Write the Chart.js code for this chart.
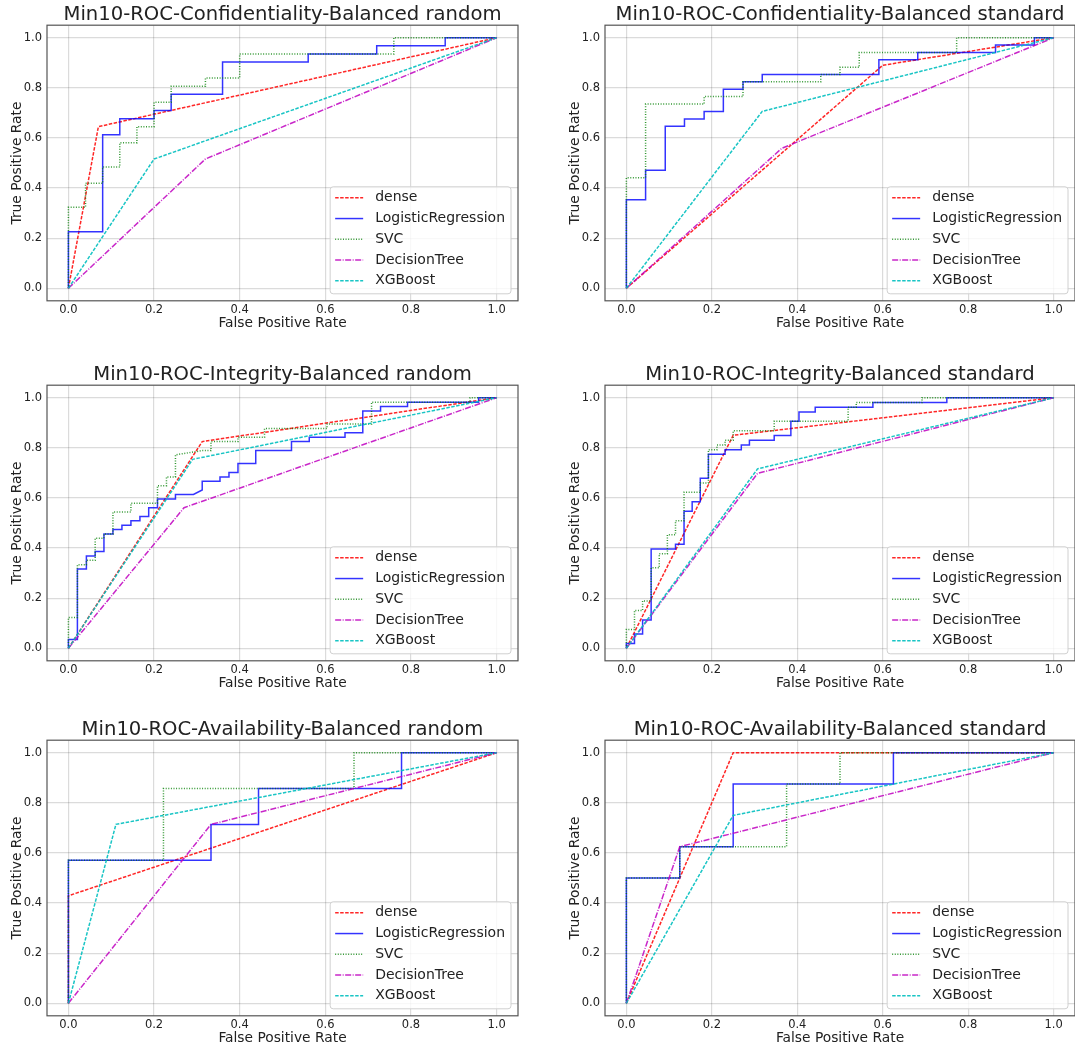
<!DOCTYPE html>
<html>
<head>
<meta charset="utf-8">
<title>Min10 ROC curves</title>
<script src="https://cdn.jsdelivr.net/npm/chart.js@4.4.0/dist/chart.umd.min.js"></script>
<style>
  html, body { margin: 0; padding: 0; background: #fff; overflow: hidden; }
  #wrap { position: relative; width: 1075px; height: 1050px; }
  #wrap canvas { position: absolute; }
</style>
</head>
<body>
<div id="wrap"></div>
<script>
// ROC points [fpr, tpr]

// Confidentiality - random
const confRandomDense = [[0, 0], [0.07, 0.645], [1, 1]];
const confRandomLR = [[0, 0], [0, 0.226], [0.08, 0.226], [0.08, 0.613], [0.12, 0.613], [0.12, 0.677], [0.2, 0.677], [0.2, 0.71], [0.24, 0.71], [0.24, 0.774], [0.36, 0.774], [0.36, 0.903], [0.56, 0.903], [0.56, 0.935], [0.72, 0.935], [0.72, 0.968], [0.88, 0.968], [0.88, 1], [1, 1]];
const confRandomSVC = [[0, 0], [0, 0.323], [0.04, 0.323], [0.04, 0.419], [0.08, 0.419], [0.08, 0.484], [0.12, 0.484], [0.12, 0.581], [0.16, 0.581], [0.16, 0.645], [0.2, 0.645], [0.2, 0.742], [0.24, 0.742], [0.24, 0.806], [0.32, 0.806], [0.32, 0.839], [0.4, 0.839], [0.4, 0.935], [0.76, 0.935], [0.76, 1], [1, 1]];
const confRandomTree = [[0, 0], [0.32, 0.516], [1, 1]];
const confRandomXGB = [[0, 0], [0.2, 0.516], [1, 1]];

// Confidentiality - standard
const confStdDense = [[0, 0], [0.6, 0.89], [1, 1]];
const confStdLR = [[0, 0], [0, 0.353], [0.045, 0.353], [0.045, 0.471], [0.091, 0.471], [0.091, 0.647], [0.136, 0.647], [0.136, 0.676], [0.182, 0.676], [0.182, 0.706], [0.227, 0.706], [0.227, 0.794], [0.273, 0.794], [0.273, 0.824], [0.318, 0.824], [0.318, 0.853], [0.591, 0.853], [0.591, 0.912], [0.682, 0.912], [0.682, 0.941], [0.864, 0.941], [0.864, 0.971], [0.955, 0.971], [0.955, 1], [1, 1]];
const confStdSVC = [[0, 0], [0, 0.441], [0.045, 0.441], [0.045, 0.735], [0.182, 0.735], [0.182, 0.765], [0.273, 0.765], [0.273, 0.824], [0.455, 0.824], [0.455, 0.853], [0.5, 0.853], [0.5, 0.882], [0.545, 0.882], [0.545, 0.941], [0.773, 0.941], [0.773, 1], [1, 1]];
const confStdTree = [[0, 0], [0.364, 0.559], [1, 1]];
const confStdXGB = [[0, 0], [0.318, 0.706], [1, 1]];

// Integrity - random
const integRandomDense = [[0, 0], [0.3125, 0.825], [1, 1]];
const integRandomLR = [[0, 0], [0, 0.035], [0.021, 0.035], [0.021, 0.316], [0.042, 0.316], [0.042, 0.368], [0.0625, 0.368], [0.0625, 0.386], [0.083, 0.386], [0.083, 0.456], [0.104, 0.456], [0.104, 0.474], [0.125, 0.474], [0.125, 0.491], [0.146, 0.491], [0.146, 0.509], [0.167, 0.509], [0.167, 0.526], [0.1875, 0.526], [0.1875, 0.561], [0.208, 0.561], [0.208, 0.596], [0.25, 0.596], [0.25, 0.614], [0.292, 0.614], [0.3125, 0.632], [0.3125, 0.667], [0.354, 0.667], [0.354, 0.684], [0.375, 0.684], [0.375, 0.702], [0.396, 0.702], [0.396, 0.737], [0.4375, 0.737], [0.4375, 0.789], [0.521, 0.789], [0.521, 0.825], [0.5625, 0.825], [0.5625, 0.842], [0.646, 0.842], [0.646, 0.86], [0.6875, 0.86], [0.6875, 0.947], [0.729, 0.947], [0.729, 0.965], [0.792, 0.965], [0.792, 0.982], [0.958, 0.982], [0.958, 1], [1, 1]];
const integRandomSVC = [[0, 0], [0, 0.123], [0.021, 0.123], [0.021, 0.333], [0.042, 0.333], [0.042, 0.351], [0.0625, 0.351], [0.0625, 0.439], [0.083, 0.439], [0.083, 0.456], [0.104, 0.456], [0.104, 0.544], [0.146, 0.544], [0.146, 0.579], [0.208, 0.579], [0.208, 0.649], [0.229, 0.649], [0.229, 0.684], [0.25, 0.684], [0.25, 0.772], [0.3125, 0.789], [0.333, 0.789], [0.333, 0.825], [0.396, 0.825], [0.396, 0.842], [0.458, 0.842], [0.458, 0.877], [0.604, 0.877], [0.604, 0.895], [0.708, 0.895], [0.708, 0.982], [0.938, 0.982], [0.938, 1], [1, 1]];
const integRandomTree = [[0, 0], [0.27, 0.561], [1, 1]];
const integRandomXGB = [[0, 0], [0.29, 0.754], [1, 1]];

// Integrity - standard
const integStdDense = [[0, 0], [0.25, 0.85], [1, 1]];
const integStdLR = [[0, 0], [0, 0.019], [0.019, 0.019], [0.019, 0.057], [0.038, 0.057], [0.038, 0.113], [0.058, 0.113], [0.058, 0.396], [0.115, 0.396], [0.115, 0.415], [0.135, 0.415], [0.135, 0.547], [0.154, 0.547], [0.154, 0.585], [0.173, 0.585], [0.173, 0.679], [0.192, 0.679], [0.192, 0.774], [0.231, 0.774], [0.231, 0.792], [0.269, 0.792], [0.269, 0.811], [0.288, 0.811], [0.288, 0.83], [0.346, 0.83], [0.346, 0.849], [0.385, 0.849], [0.385, 0.906], [0.404, 0.906], [0.404, 0.943], [0.442, 0.943], [0.442, 0.962], [0.577, 0.962], [0.577, 0.981], [0.75, 0.981], [0.75, 1], [1, 1]];
const integStdSVC = [[0, 0], [0, 0.075], [0.019, 0.075], [0.019, 0.151], [0.038, 0.151], [0.038, 0.189], [0.058, 0.189], [0.058, 0.321], [0.077, 0.321], [0.077, 0.377], [0.096, 0.377], [0.096, 0.453], [0.115, 0.453], [0.115, 0.509], [0.135, 0.509], [0.135, 0.623], [0.173, 0.623], [0.173, 0.66], [0.192, 0.66], [0.192, 0.792], [0.212, 0.792], [0.212, 0.811], [0.231, 0.811], [0.231, 0.83], [0.25, 0.83], [0.25, 0.868], [0.346, 0.868], [0.346, 0.906], [0.519, 0.906], [0.519, 0.962], [0.538, 0.962], [0.538, 0.981], [0.692, 0.981], [0.692, 1], [1, 1]];
const integStdTree = [[0, 0], [0.307, 0.698], [1, 1]];
const integStdXGB = [[0, 0], [0.307, 0.716], [1, 1]];

// Availability - random
const availRandomDense = [[0, 0], [0, 0.429], [1, 1]];
const availRandomLR = [[0, 0], [0, 0.571], [0.333, 0.571], [0.333, 0.714], [0.444, 0.714], [0.444, 0.857], [0.778, 0.857], [0.778, 1], [1, 1]];
const availRandomSVC = [[0, 0], [0, 0.571], [0.222, 0.571], [0.222, 0.857], [0.667, 0.857], [0.667, 1], [1, 1]];
const availRandomTree = [[0, 0], [0.333, 0.714], [1, 1]];
const availRandomXGB = [[0, 0], [0.111, 0.714], [1, 1]];

// Availability - standard
const availStdDense = [[0, 0], [0.25, 1], [1, 1]];
const availStdLR = [[0, 0], [0, 0.5], [0.125, 0.5], [0.125, 0.625], [0.25, 0.625], [0.25, 0.875], [0.625, 0.875], [0.625, 1], [1, 1]];
const availStdSVC = [[0, 0], [0, 0.5], [0.125, 0.5], [0.125, 0.625], [0.375, 0.625], [0.375, 0.875], [0.5, 0.875], [0.5, 1], [1, 1]];
const availStdTree = [[0, 0], [0.125, 0.625], [1, 1]];
const availStdXGB = [[0, 0], [0.25, 0.75], [1, 1]];

const modelNames = ["dense", "LogisticRegression", "SVC", "DecisionTree", "XGBoost"];
const xTicks = [0, 0.2, 0.4, 0.6, 0.8, 1.0];
const yTicks = [0, 0.2, 0.4, 0.6, 0.8, 1.0];

const panels = [
  { title: "Min10-ROC-Confidentiality-Balanced random", curves: [confRandomDense, confRandomLR, confRandomSVC, confRandomTree, confRandomXGB] },
  { title: "Min10-ROC-Confidentiality-Balanced standard", curves: [confStdDense, confStdLR, confStdSVC, confStdTree, confStdXGB] },
  { title: "Min10-ROC-Integrity-Balanced random", curves: [integRandomDense, integRandomLR, integRandomSVC, integRandomTree, integRandomXGB] },
  { title: "Min10-ROC-Integrity-Balanced standard", curves: [integStdDense, integStdLR, integStdSVC, integStdTree, integStdXGB] },
  { title: "Min10-ROC-Availability-Balanced random", curves: [availRandomDense, availRandomLR, availRandomSVC, availRandomTree, availRandomXGB] },
  { title: "Min10-ROC-Availability-Balanced standard", curves: [availStdDense, availStdLR, availStdSVC, availStdTree, availStdXGB] },
];

// matplotlib-ish styles: r--, b-, g:, m-., c--
const lineStyles = [
  { color: "rgba(255, 0, 0, 0.85)", dash: [3.5, 1.5] },
  { color: "rgba(0, 0, 255, 0.8)", dash: [] },
  { color: "rgba(0, 128, 0, 0.8)", dash: [1, 1.6] },
  { color: "rgba(191, 0, 191, 0.85)", dash: [6, 1.5, 1, 1.5] },
  { color: "rgba(0, 191, 191, 0.9)", dash: [3.5, 1.5] },
];

const FONT = "'DejaVu Sans', sans-serif";
const TEXT = "#222";
Chart.defaults.font.family = FONT;
Chart.defaults.color = TEXT;

// full box round the axes, drawn above the lines
const framePlugin = {
  id: "frame",
  afterDatasetsDraw(chart) {
    const { ctx, chartArea: a } = chart;
    ctx.save();
    ctx.strokeStyle = "#555";
    ctx.lineWidth = 1.2;
    ctx.strokeRect(a.left, a.top, a.right - a.left, a.bottom - a.top);
    ctx.restore();
  },
};

// legend in the lower right corner, inside the axes
const rocLegend = {
  id: "rocLegend",
  afterDraw(chart) {
    const { ctx, chartArea: a } = chart;
    const sets = chart.data.datasets;
    ctx.save();
    ctx.font = "14px " + FONT;
    const textW = Math.max(...sets.map((d) => ctx.measureText(d.label).width));
    const w = 5 + 28 + 12 + textW + 6;
    const h = 107;
    const right = a.right - 7;
    const bottom = a.bottom - 7;
    const left = right - w;
    const top = bottom - h;

    ctx.beginPath();
    ctx.roundRect(left, top, w, h, 3);
    ctx.fillStyle = "rgba(255, 255, 255, 0.8)";
    ctx.fill();
    ctx.strokeStyle = "#d0d0d0";
    ctx.lineWidth = 1;
    ctx.stroke();

    sets.forEach((d, i) => {
      const y = top + 11 + i * 20.75;
      ctx.beginPath();
      ctx.setLineDash(d.borderDash || []);
      ctx.strokeStyle = d.borderColor;
      ctx.lineWidth = d.borderWidth;
      ctx.moveTo(left + 5, y);
      ctx.lineTo(left + 33, y);
      ctx.stroke();
      ctx.setLineDash([]);
      ctx.fillStyle = TEXT;
      ctx.textBaseline = "middle";
      ctx.textAlign = "left";
      ctx.fillText(d.label, left + 45, y);
    });
    ctx.restore();
  },
};

function tickFont() {
  return { family: FONT, size: 11.5, lineHeight: 1.2 };
}

function makeChart(panel, idx) {
  const col = idx % 2;
  const row = Math.floor(idx / 2);
  const canvas = document.createElement("canvas");
  const left = col === 0 ? 0 : 558;
  const width = col === 0 ? 530 : 517;
  const top = [0, 360, 715][row];
  canvas.width = width;
  canvas.height = 333;
  canvas.style.left = left + "px";
  canvas.style.top = top + "px";
  document.getElementById("wrap").appendChild(canvas);

  const datasets = panel.curves.map((pts, i) => ({
    label: modelNames[i],
    data: pts.map((p) => ({ x: p[0], y: p[1] })),
    showLine: true,
    borderColor: lineStyles[i].color,
    borderDash: lineStyles[i].dash,
    borderWidth: 1.5,
    pointRadius: 0,
    pointHoverRadius: 0,
    fill: false,
    tension: 0,
    order: modelNames.length - i, // later models drawn on top
  }));

  new Chart(canvas, {
    type: "scatter",
    data: { datasets },
    options: {
      responsive: false,
      animation: false,
      events: [],
      layout: { padding: { left: 0, right: col === 0 ? 12 : 0, top: 0, bottom: 1.7 } },
      plugins: {
        legend: { display: false },
        tooltip: { enabled: false },
        title: {
          display: true,
          text: panel.title,
          fullSize: false,
          color: TEXT,
          font: { family: FONT, size: 19.6, weight: "normal", lineHeight: 1 },
          padding: { top: 5.6, bottom: 0 },
        },
      },
      scales: {
        x: {
          type: "linear",
          min: -0.05,
          max: 1.05,
          bounds: "data",
          afterBuildTicks: (s) => { s.ticks = xTicks.map((v) => ({ value: v })); },
          afterFit: (s) => { s.height = 30.5; },
          ticks: {
            callback: (v) => v.toFixed(1),
            font: tickFont(),
            color: TEXT,
            padding: 2.5,
            autoSkip: false,
            maxRotation: 0,
          },
          grid: { color: "rgba(0, 0, 0, 0.14)", lineWidth: 1.2, drawTicks: false },
          border: { display: false },
          title: {
            display: true,
            text: "False Positive Rate",
            color: TEXT,
            font: { family: FONT, size: 13.8, lineHeight: 1.2 },
            padding: 0,
          },
        },
        y: {
          type: "linear",
          min: -0.05,
          max: 1.05,
          bounds: "data",
          afterBuildTicks: (s) => { s.ticks = yTicks.map((v) => ({ value: v })); },
          afterFit: (s) => { s.width = 47; },
          ticks: {
            callback: (v) => v.toFixed(1),
            font: tickFont(),
            color: TEXT,
            padding: 5,
            autoSkip: false,
          },
          grid: { color: "rgba(0, 0, 0, 0.14)", lineWidth: 1.2, drawTicks: false },
          border: { display: false },
          title: {
            display: true,
            text: "True Positive Rate",
            color: TEXT,
            font: { family: FONT, size: 13.8, lineHeight: 1.2 },
            padding: { top: 9, bottom: 0 },
          },
        },
      },
    },
    plugins: [framePlugin, rocLegend],
  });
}

panels.forEach(makeChart);
</script>
</body>
</html>
